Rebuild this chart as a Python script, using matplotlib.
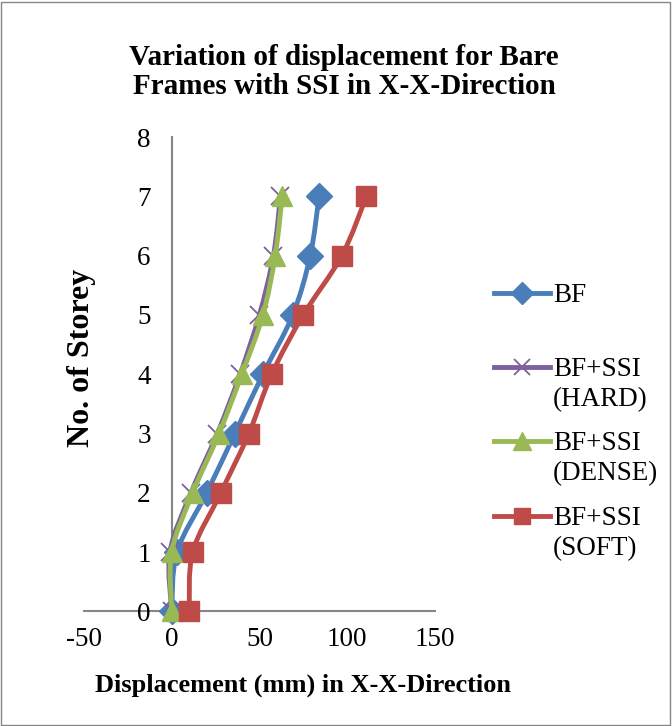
import numpy as np
import matplotlib.pyplot as plt
from matplotlib.path import Path
from matplotlib.patches import PathPatch, Rectangle
from matplotlib.lines import Line2D

plt.rcParams['font.family'] = ['Liberation Serif', 'DejaVu Serif']
plt.rcParams['axes.unicode_minus'] = False

storey = [0, 1, 2, 3, 4, 5, 6, 7]
bf = [0, 3, 20, 36, 52, 69, 79, 84]
bf_hard = [0, -1, 11, 26, 39, 50, 58, 62]
bf_dense = [0, 0, 12, 27, 40, 52, 59, 63]
bf_soft = [10, 12, 28, 44, 57, 75, 97, 111]

labels = [('BF', ''), ('BF+SSI', '(HARD)'), ('BF+SSI', '(DENSE)'), ('BF+SSI', '(SOFT)')]
colors = ['#4A7EBB', '#7D60A0', '#98B954', '#BE4B48']
markers = ['D', 'x', '^', 's']
msizes = [13, 13, 15, 14]


def smooth_path(xs, ys):
    # bezier segments through the points, like a spreadsheet "smoothed line"
    p = np.column_stack([xs, ys]).astype(float)
    n = len(p)
    verts = [p[0]]
    codes = [Path.MOVETO]
    for i in range(n - 1):
        p0 = p[i - 1] if i > 0 else p[i]
        p3 = p[i + 2] if i + 2 < n else p[i + 1]
        c1 = p[i] + (p[i + 1] - p0) / 6
        c2 = p[i + 1] - (p3 - p[i]) / 6
        verts += [c1, c2, p[i + 1]]
        codes += [Path.CURVE4] * 3
    return Path(verts, codes)


fig = plt.figure(figsize=(6.72, 7.26), dpi=100)
ax = fig.add_axes([0.125, 0.158, 0.522, 0.653])

series = [bf, bf_hard, bf_dense, bf_soft]
for vals, c, m, ms in zip(series, colors, markers, msizes):
    ax.add_patch(PathPatch(smooth_path(vals, storey), fill=False, edgecolor=c,
                           lw=3.5, clip_on=False, zorder=3))
    if m == 'x':
        ax.plot(vals, storey, ls='none', marker=m, ms=ms, mew=1.3, color=c,
                clip_on=False, zorder=3)
    else:
        ax.plot(vals, storey, ls='none', marker=m, ms=ms, color=c,
                markeredgecolor=c, clip_on=False, zorder=3)

ax.set_xlim(-50, 150)
ax.set_ylim(0, 8)
ax.set_xticks([-50, 0, 50, 100, 150])
ax.set_yticks(range(9))
ax.spines['left'].set_position(('data', 0))
ax.spines['bottom'].set_position(('data', 0))
for s in ['top', 'right']:
    ax.spines[s].set_visible(False)
for s in ['left', 'bottom']:
    ax.spines[s].set_color('#868686')
    ax.spines[s].set_linewidth(1.5)
    ax.spines[s].set_zorder(1)
ax.tick_params(axis='both', length=0, labelsize=19.5)
ax.tick_params(axis='y', pad=15)
ax.tick_params(axis='x', pad=11)

fig.text(0.512, 1 - 72 / 726, 'Variation of displacement for Bare\nFrames with SSI in X-X-Direction',
         ha='center', va='center', fontsize=21, fontweight='bold', linespacing=1.05)
fig.text(82 / 672, 1 - 358 / 726, 'No. of Storey', rotation=90, ha='center', va='center',
         fontsize=23, fontweight='bold')
fig.text(303 / 672, 1 - 685 / 726, 'Displacement (mm) in X-X-Direction', ha='center',
         va='center', fontsize=19, fontweight='bold')

# legend drawn by hand so the marker sits on the first text line
leg_y = [293, 367, 441, 516]
for (l1, l2), c, m, ms, yp in zip(labels, colors, markers, msizes, leg_y):
    yf = 1 - yp / 726
    fig.add_artist(Line2D([494 / 672, 550 / 672], [yf, yf], color=c, lw=3.5))
    fig.add_artist(Line2D([522 / 672], [yf], marker=m, ms=ms * 0.85, color=c,
                          mew=1.3 if m == 'x' else 1, ls='none'))
    fig.text(553 / 672, 1 - (yp + 9) / 726, l1, ha='left', va='baseline', fontsize=19.5)
    if l2:
        fig.text(553 / 672, 1 - (yp + 39) / 726, l2, ha='left', va='baseline',
                 fontsize=19.5)

fig.add_artist(Rectangle((0.002, 0.002), 0.995, 0.995, transform=fig.transFigure,
                         fill=False, edgecolor='#868686', lw=1))

fig.savefig('out.png', dpi=100)
